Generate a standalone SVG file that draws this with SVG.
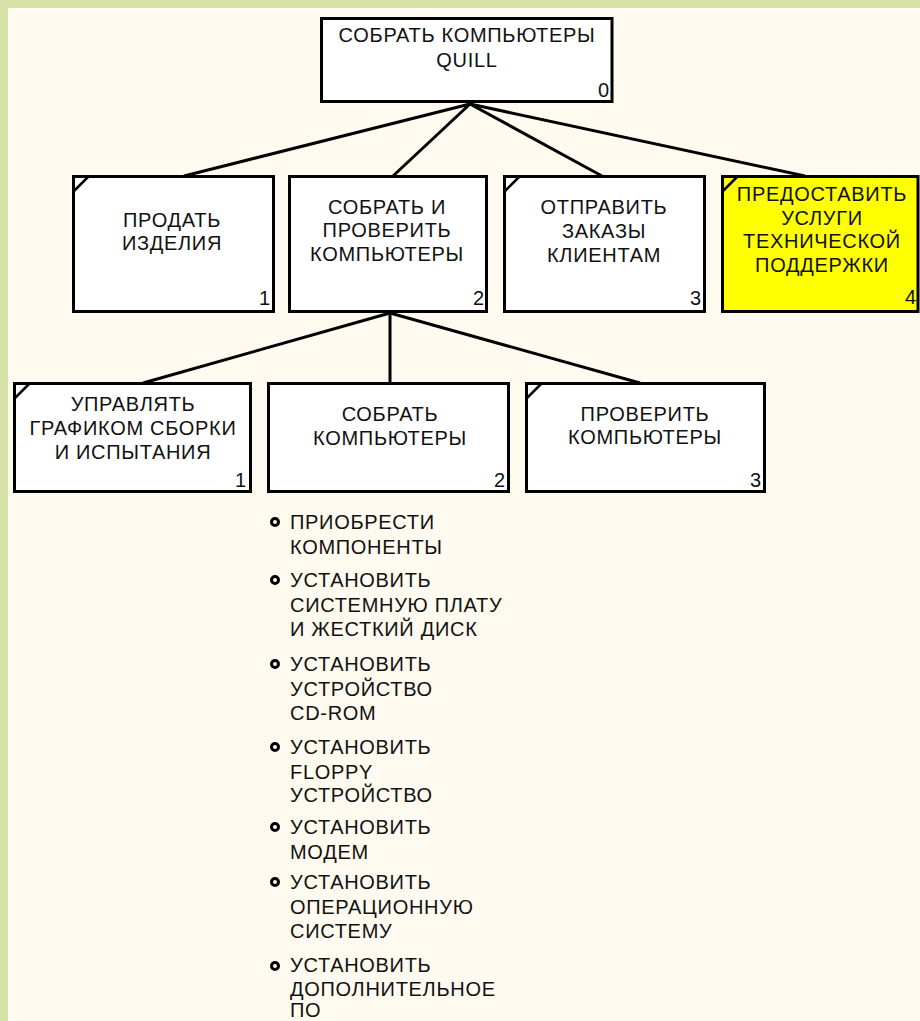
<svg xmlns="http://www.w3.org/2000/svg" width="920" height="1021" viewBox="0 0 920 1021">
<style>
.box{fill:#ffffff;stroke:#000000;stroke-width:3}
.yel{fill:#ffff00}
.tick{stroke:#000000;stroke-width:2.5;fill:none}
.t{font-family:"Liberation Sans",Arial,sans-serif;font-size:20px;letter-spacing:0.7px;fill:#111111;text-anchor:middle}
.n{font-family:"Liberation Sans",Arial,sans-serif;font-size:20px;fill:#111111;text-anchor:end}
.b{font-family:"Liberation Sans",Arial,sans-serif;font-size:20px;letter-spacing:0.7px;fill:#111111}
.con{stroke:#000000;stroke-width:3;fill:none}
.dot{fill:none;stroke:#000000;stroke-width:3}
</style>
<rect x="0" y="0" width="920" height="1021" fill="#fffaf0"/>
<rect x="0" y="0" width="920" height="8" fill="#d7e3a6"/>
<rect x="0" y="0" width="8" height="1021" fill="#d7e3a6"/>

<g id="connectors">
<line class="con" x1="470" y1="104" x2="184" y2="176"/>
<line class="con" x1="470" y1="104" x2="393" y2="176"/>
<line class="con" x1="470" y1="104" x2="602" y2="176"/>
<line class="con" x1="470" y1="104" x2="805" y2="176"/>
<line class="con" x1="390" y1="313" x2="143" y2="383"/>
<line class="con" x1="390" y1="313" x2="390" y2="383"/>
<line class="con" x1="390" y1="313" x2="640" y2="383"/>
</g>

<g id="node0">
<rect class="box" x="321.5" y="18.5" width="290.5" height="83"/>
<text class="t" x="467" y="42">СОБРАТЬ КОМПЬЮТЕРЫ</text>
<text class="t" x="467" y="67">QUILL</text>
<text class="n" x="609" y="97">0</text>
</g>

<g id="node1">
<rect class="box" x="73.5" y="176.5" width="200" height="135"/>
<line class="tick" x1="74" y1="191" x2="88" y2="177"/>
<text class="t" x="172" y="227">ПРОДАТЬ</text>
<text class="t" x="172" y="250">ИЗДЕЛИЯ</text>
<text class="n" x="270" y="305">1</text>
</g>

<g id="node2">
<rect class="box" x="289.5" y="176.5" width="197" height="135"/>
<text class="t" x="387" y="214">СОБРАТЬ И</text>
<text class="t" x="387" y="237">ПРОВЕРИТЬ</text>
<text class="t" x="387" y="261">КОМПЬЮТЕРЫ</text>
<text class="n" x="484" y="305">2</text>
</g>

<g id="node3">
<rect class="box" x="504.5" y="176.5" width="200" height="135"/>
<line class="tick" x1="505" y1="191" x2="519" y2="177"/>
<text class="t" x="604" y="214">ОТПРАВИТЬ</text>
<text class="t" x="604" y="238">ЗАКАЗЫ</text>
<text class="t" x="604" y="262">КЛИЕНТАМ</text>
<text class="n" x="701" y="305">3</text>
</g>

<g id="node4">
<rect class="box yel" x="722.5" y="176.5" width="195.5" height="135"/>
<line class="tick" x1="723" y1="191" x2="737" y2="177"/>
<text class="t" x="822" y="201">ПРЕДОСТАВИТЬ</text>
<text class="t" x="822" y="224.5">УСЛУГИ</text>
<text class="t" x="822" y="248">ТЕХНИЧЕСКОЙ</text>
<text class="t" x="822" y="271.5">ПОДДЕРЖКИ</text>
<text class="n" x="916" y="304">4</text>
</g>

<g id="node2-1">
<rect class="box" x="14.5" y="383.5" width="236" height="108"/>
<line class="tick" x1="15" y1="398" x2="29" y2="384"/>
<text class="t" x="133" y="411">УПРАВЛЯТЬ</text>
<text class="t" x="133" y="435">ГРАФИКОМ СБОРКИ</text>
<text class="t" x="133" y="459">И ИСПЫТАНИЯ</text>
<text class="n" x="246" y="487">1</text>
</g>

<g id="node2-2">
<rect class="box" x="268.5" y="383.5" width="240" height="108"/>
<text class="t" x="390" y="421">СОБРАТЬ</text>
<text class="t" x="390" y="445">КОМПЬЮТЕРЫ</text>
<text class="n" x="505" y="487">2</text>
</g>

<g id="node2-3">
<rect class="box" x="526.5" y="383.5" width="238" height="108"/>
<line class="tick" x1="527" y1="398" x2="541" y2="384"/>
<text class="t" x="645" y="421">ПРОВЕРИТЬ</text>
<text class="t" x="645" y="444">КОМПЬЮТЕРЫ</text>
<text class="n" x="761" y="487">3</text>
</g>

<g id="list">
<circle class="dot" cx="275" cy="522" r="3.5"/>
<text class="b" x="290" y="529">ПРИОБРЕСТИ</text>
<text class="b" x="290" y="553.5">КОМПОНЕНТЫ</text>
<circle class="dot" cx="275" cy="580" r="3.5"/>
<text class="b" x="290" y="587">УСТАНОВИТЬ</text>
<text class="b" x="290" y="611.5">СИСТЕМНУЮ ПЛАТУ</text>
<text class="b" x="290" y="636">И ЖЕСТКИЙ ДИСК</text>
<circle class="dot" cx="275" cy="664" r="3.5"/>
<text class="b" x="290" y="671">УСТАНОВИТЬ</text>
<text class="b" x="290" y="695.5">УСТРОЙСТВО</text>
<text class="b" x="290" y="720">CD-ROM</text>
<circle class="dot" cx="275" cy="747" r="3.5"/>
<text class="b" x="290" y="754">УСТАНОВИТЬ</text>
<text class="b" x="290" y="778.5">FLOPPY</text>
<text class="b" x="290" y="802">УСТРОЙСТВО</text>
<circle class="dot" cx="275" cy="827" r="3.5"/>
<text class="b" x="290" y="834">УСТАНОВИТЬ</text>
<text class="b" x="290" y="858.5">МОДЕМ</text>
<circle class="dot" cx="275" cy="882" r="3.5"/>
<text class="b" x="290" y="889">УСТАНОВИТЬ</text>
<text class="b" x="290" y="913.5">ОПЕРАЦИОННУЮ</text>
<text class="b" x="290" y="938">СИСТЕМУ</text>
<circle class="dot" cx="275" cy="966" r="3.5"/>
<text class="b" x="290" y="972">УСТАНОВИТЬ</text>
<text class="b" x="290" y="995.5">ДОПОЛНИТЕЛЬНОЕ</text>
<text class="b" x="290" y="1017">ПО</text>
</g>
</svg>
